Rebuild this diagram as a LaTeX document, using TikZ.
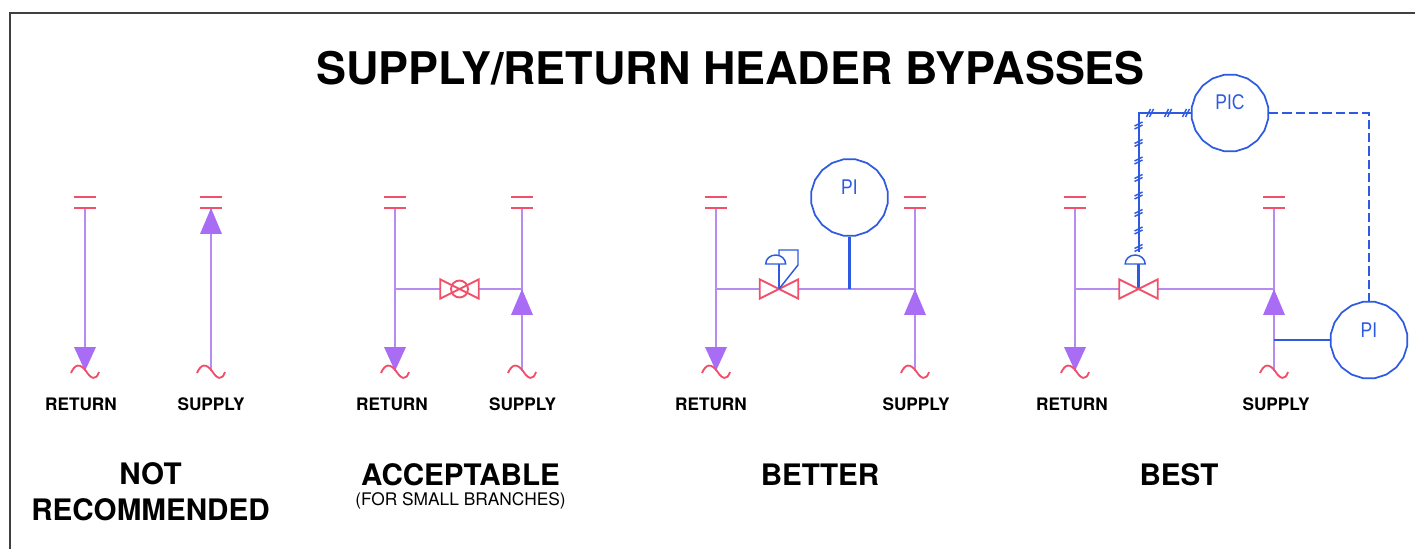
\documentclass[tikz,border=0pt]{standalone}
\usepackage{fontspec}
\setmainfont{TeX Gyre Heros}
\newfontfamily\gaugefont[FakeStretch=0.82]{Liberation Sans}
\usetikzlibrary{shapes.geometric}

\definecolor{pipecolor}{RGB}{182,140,240}
\definecolor{tipcolor}{RGB}{168,108,245}
\definecolor{fittingcolor}{RGB}{240,80,105}
\definecolor{signalcolor}{RGB}{45,90,225}
\newcommand{\labelsize}[1]{\fontsize{#1}{#1}\selectfont}

\tikzset{
  pipe/.style={color=pipecolor,line width=2.1pt},
  fitting/.style={color=fittingcolor,line width=1.4pt},
  signal/.style={color=signalcolor,line width=1.8pt},
  signalthin/.style={color=signalcolor,line width=1.1pt},
  gauge/.style={regular polygon,regular polygon sides=20,draw=signalcolor,line width=1.3pt,minimum size=58pt,inner sep=0pt,fill=white},
  valvebody/.style={minimum width=28.5pt,minimum height=14pt,inner sep=0pt},
  flowtip/.style={fill=tipcolor,draw=none},
  plainlabel/.style={inner sep=0.75pt,font=\bfseries\labelsize{12.9pt}},
  gradelabel/.style={inner sep=0.75pt,font=\bfseries\labelsize{22.2pt},align=center},
  gaugelabel/.style={inner sep=0.75pt,color=signalcolor,font=\gaugefont\labelsize{16pt}},
  flange/.pic={\draw [fitting] (-11,11) -- (11,11) (-11,0) -- (11,0) ;},
  pipebreak/.pic={\draw [fitting] (-14,-2) .. controls (-10,7) and (-5,8) .. (1,0) .. controls (6,-8) and (11,-10) .. (14,-1) ;},
  tipdown/.pic={\path [flowtip] (-11,24) -- (11,24) -- (0,0) -- cycle ;},
  tipup/.pic={\path [flowtip] (-11,-26) -- (11,-26) -- (0,0) -- cycle ;},
  hatchv/.pic={\draw [signalthin] (-4,-1) -- (4,3) (-4,-4) -- (4,0) ;},
  hatchh/.pic={\draw [signalthin] (-4,-4) -- (0,4) (-1,-4) -- (3,4) ;},
}

\begin{document}
\begin{tikzpicture}[x=0.75pt,y=0.75pt,yscale=-1,xscale=1]
\useasboundingbox (0,0) rectangle (1415,549);

%Straight Lines: sheet edge
\draw [line width=1.5pt,color=black!75] (10,549) -- (10,13) -- (1415,13) ;

% Text Node
\node (title) at (730.5,68) [inner sep=0.75pt,font=\bfseries\labelsize{33.7pt}] {SUPPLY/RETURN HEADER BYPASSES};

%Pipe ends: not recommended
\coordinate (ret1top) at (85,208);
\coordinate (ret1end) at (85,371);
\coordinate (sup1top) at (211,208);
\coordinate (sup1end) at (211,371);
%Straight Lines
\draw [pipe] (ret1top) -- (ret1end) ;
\draw [pipe] (sup1top) -- (sup1end) ;
\path (ret1top) pic {flange} (sup1top) pic {flange} ;
\path (ret1end) pic {tipdown} (sup1top) pic {tipup} ;
\path (ret1end) pic {pipebreak} (sup1end) pic {pipebreak} ;
% Text Node
\node (ret1label) at (81,404) [plainlabel] {RETURN};
\node (sup1label) at (211,404) [plainlabel] {SUPPLY};
\node (grade1) at (150.5,492) [gradelabel] {NOT\\[4.5pt]RECOMMENDED};

%Pipe ends: acceptable
\coordinate (ret2top) at (395,208);
\coordinate (ret2end) at (395,371);
\coordinate (ret2tee) at (395,289);
\coordinate (sup2top) at (522,208);
\coordinate (sup2end) at (522,371);
\coordinate (sup2tee) at (522,289);
\node (valve2) at (459.5,289) [valvebody] {};
%Straight Lines
\draw [pipe] (ret2top) -- (ret2end) ;
\draw [pipe] (sup2top) -- (sup2end) ;
\draw [pipe] (ret2tee) -- (valve2.west) ;
\draw [pipe] (valve2.east) -- (sup2tee) ;
%Shape: Valve
\draw [fitting] (valve2.north west) -- (valve2.south east) -- (valve2.north east) -- (valve2.south west) -- cycle ;
\draw [fitting] (valve2.center) circle [radius=8.5] ;
\path (ret2top) pic {flange} (sup2top) pic {flange} ;
\path (ret2end) pic {tipdown} (sup2tee) pic {tipup} ;
\path (ret2end) pic {pipebreak} (sup2end) pic {pipebreak} ;
% Text Node
\node (ret2label) at (392,404) [plainlabel] {RETURN};
\node (sup2label) at (522.5,404) [plainlabel] {SUPPLY};
\node (grade2) at (460.5,475) [gradelabel] {ACCEPTABLE};
\node (note2) at (460.5,501) [inner sep=0.75pt,font=\labelsize{13pt}] {(FOR SMALL BRANCHES)};

%Pipe ends: better
\coordinate (ret3top) at (716,208);
\coordinate (ret3end) at (716,371);
\coordinate (ret3tee) at (716,289);
\coordinate (sup3top) at (915,208);
\coordinate (sup3end) at (915,371);
\coordinate (sup3tee) at (915,289);
\coordinate (tap3) at (849.5,289);
\node (valve3) at (779,289) [valvebody] {};
\node (gauge3) at (849.5,197.5) [gauge] {};
\coordinate (dome3) at (779,264);
%Straight Lines
\draw [pipe] (ret3top) -- (ret3end) ;
\draw [pipe] (sup3top) -- (sup3end) ;
\draw [pipe] (ret3tee) -- (valve3.west) ;
\draw [pipe] (valve3.east) -- (sup3tee) ;
\draw [signal] (gauge3.south) -- (tap3) ;
\draw [signal] (valve3.center) -- (dome3) ;
%Shape: Valve
\draw [fitting] (valve3.north west) -- (valve3.south east) -- (valve3.north east) -- (valve3.south west) -- cycle ;
%Shape: Actuator
\draw [signalthin] ([xshift=-10]dome3) arc [start angle=180,end angle=360,x radius=10,y radius=9] -- cycle ;
\draw [signalthin] (779,255) -- ++(0,-5) -- ++(19,0) -- ++(0,15) -- (valve3.center) ;
\path (ret3top) pic {flange} (sup3top) pic {flange} ;
\path (ret3end) pic {tipdown} (sup3tee) pic {tipup} ;
\path (ret3end) pic {pipebreak} (sup3end) pic {pipebreak} ;
% Text Node
\node (gauge3label) at (849.5,187) [gaugelabel] {PI};
\node (ret3label) at (711,404) [plainlabel] {RETURN};
\node (sup3label) at (916,404) [plainlabel] {SUPPLY};
\node (grade3) at (820,475) [gradelabel] {BETTER};

%Pipe ends: best
\coordinate (ret4top) at (1075,208);
\coordinate (ret4end) at (1075,371);
\coordinate (ret4tee) at (1075,289);
\coordinate (sup4top) at (1274,208);
\coordinate (sup4end) at (1274,371);
\coordinate (sup4tee) at (1274,289);
\coordinate (tap4) at (1274,340);
\node (valve4) at (1138.5,289) [valvebody] {};
\node (control4) at (1230,113) [gauge] {};
\node (gauge4) at (1369,340) [gauge] {};
\coordinate (dome4) at (1138.5,264);
\coordinate (air4) at (1138.5,113);
\coordinate (sense4) at (1369,113);
%Straight Lines
\draw [pipe] (ret4top) -- (ret4end) ;
\draw [pipe] (sup4top) -- (sup4end) ;
\draw [pipe] (ret4tee) -- (valve4.west) ;
\draw [pipe] (valve4.east) -- (sup4tee) ;
\draw [signal] (gauge4.west) -- (tap4) ;
\draw [signal] (valve4.center) -- (dome4) ;
\draw [signal,line width=1.5pt,dash pattern=on 7pt off 3pt] (control4.east) -- (sense4) -- (gauge4.north) ;
\draw [signal,line width=1.5pt] (control4.west) -- (air4) -- ([yshift=-9]dome4) ;
%Shape: Valve
\draw [fitting] (valve4.north west) -- (valve4.south east) -- (valve4.north east) -- (valve4.south west) -- cycle ;
%Shape: Actuator
\draw [signalthin] ([xshift=-10]dome4) arc [start angle=180,end angle=360,x radius=10,y radius=9] -- cycle ;
%Hatch marks
\path (air4) ++(12,0) pic {hatchh} ++(18,0) pic {hatchh} ++(18,0) pic {hatchh} ;
\path (air4) ++(0,12) pic {hatchv} ++(0,17.5) pic {hatchv} ++(0,17.5) pic {hatchv} ++(0,17.5) pic {hatchv}
             ++(0,17.5) pic {hatchv} ++(0,17.5) pic {hatchv} ++(0,17.5) pic {hatchv} ++(0,17.5) pic {hatchv} ;
\path (ret4top) pic {flange} (sup4top) pic {flange} ;
\path (ret4end) pic {tipdown} (sup4tee) pic {tipup} ;
\path (ret4end) pic {pipebreak} (sup4end) pic {pipebreak} ;
% Text Node
\node (control4label) at (1230,102) [gaugelabel] {PIC};
\node (gauge4label) at (1369,330) [gaugelabel] {PI};
\node (ret4label) at (1072,404) [plainlabel] {RETURN};
\node (sup4label) at (1276,404) [plainlabel] {SUPPLY};
\node (grade4) at (1179,475) [gradelabel] {BEST};

\end{tikzpicture}
\end{document}
